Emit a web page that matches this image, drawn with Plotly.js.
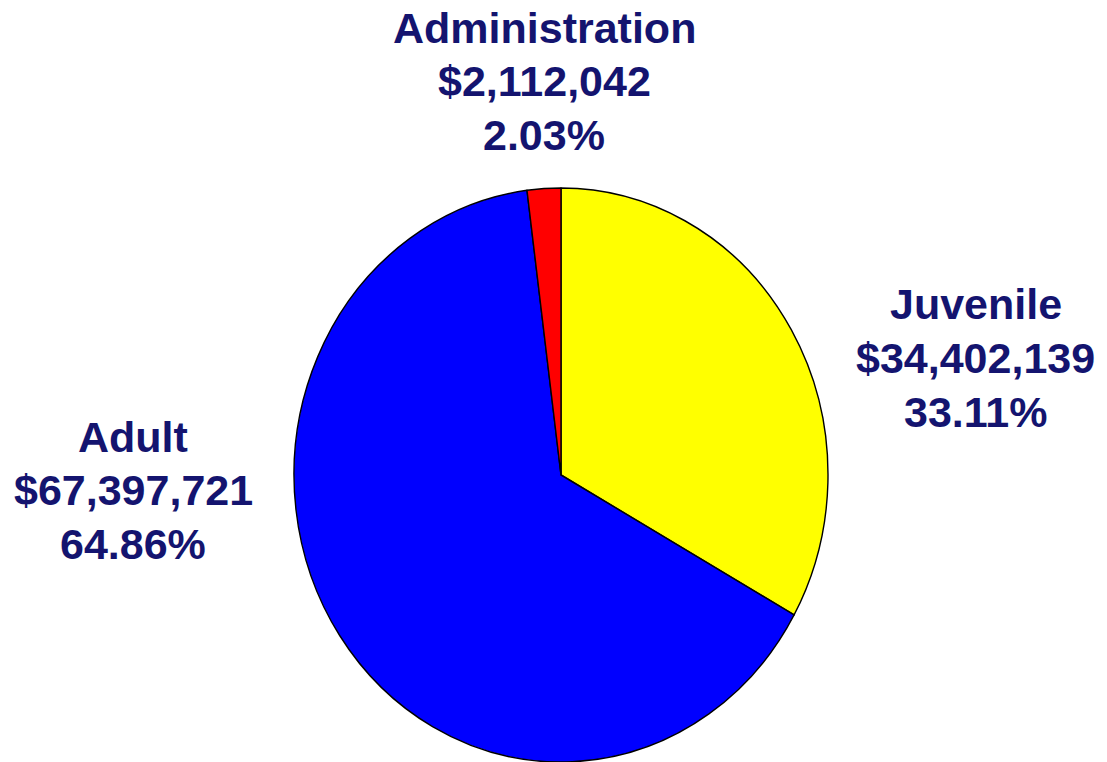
<!DOCTYPE html>
<html>
<head>
<meta charset="utf-8">
<script src="https://cdn.plot.ly/plotly-3.0.1.min.js"></script>
<style>
  html, body { margin: 0; padding: 0; background: #ffffff; overflow: hidden; }
  #chart { width: 1107px; height: 762px; }
</style>
</head>
<body>
<div id="chart"></div>
<script>
// Data
const categories = ["Juvenile", "Adult", "Administration"];
const amounts = [34402139, 67397721, 2112042];
const sliceColors = ["#ffff00", "#0000ff", "#ff0000"];

const total = amounts.reduce((a, b) => a + b, 0);
const fmtMoney = v => "$" + v.toLocaleString("en-US");
const fmtPct = v => (v / total * 100).toFixed(2) + "%";

// Label block placements (pixel centre of the middle line)
const labelPos = {
  "Juvenile":       { x: 976, y: 358 },
  "Adult":          { x: 133, y: 490 },
  "Administration": { x: 544, y: 81 }
};
const lineGap = 53.5;

const W = 1107, H = 762;
const cx = 561, cy = 475, rx = 267, ry = 287;

const trace = {
  type: "pie",
  labels: categories,
  values: amounts,
  sort: false,
  direction: "clockwise",
  rotation: 0,
  textinfo: "none",
  hoverinfo: "label+value+percent",
  marker: { colors: sliceColors, line: { color: "#000000", width: 1.4 } },
  domain: {
    x: [(cx - rx) / W, (cx + rx) / W],
    y: [(H - cy - rx) / H, (H - cy + rx) / H]
  },
  showlegend: false
};

const annotations = [];
categories.forEach((c, i) => {
  const lines = [c, fmtMoney(amounts[i]), fmtPct(amounts[i])];
  lines.forEach((t, k) => {
    annotations.push({
      xref: "paper", yref: "paper",
      x: labelPos[c].x / W,
      y: 1 - (labelPos[c].y + (k - 1) * lineGap) / H,
      xanchor: "center", yanchor: "middle",
      text: t,
      showarrow: false,
      align: "center",
      font: { family: "Liberation Sans, Arial, sans-serif", size: 43, color: "#14146f", weight: "bold" }
    });
  });
});

const layout = {
  width: W, height: H,
  margin: { l: 0, r: 0, t: 0, b: 0, pad: 0 },
  paper_bgcolor: "#ffffff",
  plot_bgcolor: "#ffffff",
  showlegend: false,
  annotations: annotations
};

Plotly.newPlot("chart", [trace], layout, { displayModeBar: false, staticPlot: true }).then(() => {
  // stretch the pie vertically into the reference's slightly oval shape
  const s = ry / rx;
  document.querySelectorAll("#chart .pielayer .trace").forEach(g => {
    const tr = g.getAttribute("transform") || "";
    g.setAttribute("transform",
      "translate(0," + cy + ") scale(1," + s + ") translate(0," + (-cy) + ") " + tr);
  });
});
</script>
</body>
</html>
